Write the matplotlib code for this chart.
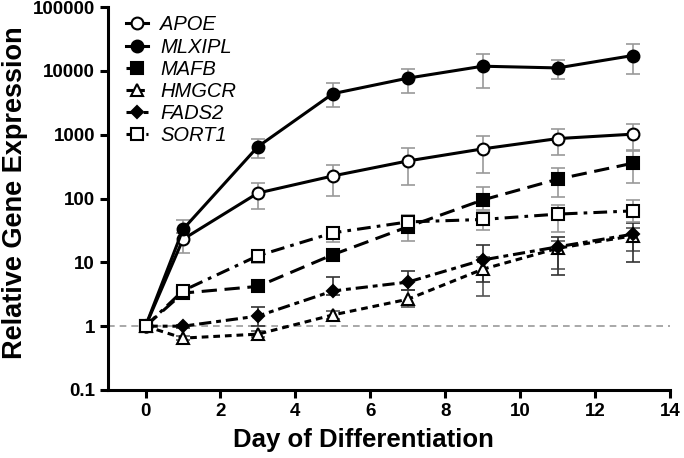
import matplotlib
matplotlib.use("Agg")
import matplotlib.pyplot as plt
import numpy as np

plt.rcParams['font.family'] = ['Liberation Sans', 'DejaVu Sans']

days = [0, 1, 3, 5, 7, 9, 11, 13]
genes = ["APOE", "MLXIPL", "MAFB", "HMGCR", "FADS2", "SORT1"]

apoe = [1, 23, 122, 226, 388, 600, 870, 1020]
apoe_hi = [1, 29, 174, 340, 614, 957, 1233, 1477]
apoe_lo = [1, 14, 69, 111, 163, 252, 482, 580]

mlxipl = [1, 33, 651, 4400, 7700, 11850, 11140, 17400]
mlxipl_hi = [1, 46, 850, 6400, 10700, 18300, 14870, 26500]
mlxipl_lo = [1, 29, 428, 2700, 4470, 5470, 7410, 8870]

mafb = [1, 3.3, 4.2, 13.2, 36, 95, 201, 357]
mafb_hi = [1, 3.6, 4.6, 15, 45, 150, 298, 563]
mafb_lo = [1, 3.0, 3.8, 11.5, 22, 65, 107, 174]

hmgcr = [1, 0.65, 0.75, 1.5, 2.64, 7.8, 16.6, 26]
hmgcr_hi = [1, 0.7, 0.85, 1.7, 3.7, 12, 22, 35]
hmgcr_lo = [1, 0.6, 0.68, 1.3, 2.0, 3.0, 8, 15]

fads2 = [1, 1.0, 1.44, 3.56, 4.9, 10.9, 17.5, 27.6]
fads2_hi = [1, 1.05, 2.02, 6.0, 7.4, 18.8, 25, 42]
fads2_lo = [1, 0.95, 1.0, 3.1, 3.7, 5.0, 6.3, 10.2]

sort1 = [1, 3.6, 12.7, 29, 43, 47, 57, 64]
sort1_hi = [1, 4.0, 15.8, 36, 55, 62.5, 79, 94]
sort1_lo = [1, 3.2, 9.7, 21, 38, 32, 30, 43]

series = [
    (apoe, apoe_hi, apoe_lo, dict(marker='o', mfc='white', ls='-'), '#999999'),
    (mlxipl, mlxipl_hi, mlxipl_lo, dict(marker='o', mfc='black', ls='-'), '#999999'),
    (mafb, mafb_hi, mafb_lo, dict(marker='s', mfc='black', ls=(0, (5, 2.5))), '#999999'),
    (hmgcr, hmgcr_hi, hmgcr_lo, dict(marker='^', mfc='white', ls=(0, (2.2, 1.6))), '#555555'),
    (fads2, fads2_hi, fads2_lo, dict(marker='D', mfc='black', ls=(0, (4, 1.6, 1.6, 1.6)), ms=6.5), '#333333'),
    (sort1, sort1_hi, sort1_lo, dict(marker='s', mfc='white', ls=(0, (4.5, 2, 1.2, 2))), '#999999'),
]

fig = plt.figure(figsize=(6.84, 4.58), dpi=100)
ax = fig.add_axes([0.158, 0.1485, 0.8215, 0.836])

ax.axhline(1, color='#999999', ls=(0, (4, 3)), lw=1.2, zorder=0)

x = np.array(days)
for name, (vals, hi, lo, st, ecol) in zip(genes, series):
    v = np.array(vals, float)
    yerr = np.vstack([v - np.array(lo, float), np.array(hi, float) - v])
    ax.errorbar(x, v, yerr=yerr, fmt='none', ecolor=ecol, elinewidth=1.2,
                capsize=5, capthick=1.2, zorder=1)
    ms = st.pop('ms', 8.5)
    ax.plot(x, v, color='black', lw=2.2, marker=st['marker'], mfc=st['mfc'],
            mec='black', mew=1.5, ms=ms, ls=st['ls'], label=name, zorder=3)

ax.set_yscale('log')
ax.set_ylim(0.1, 100000)
ax.set_xlim(-1, 14)
ax.set_xticks([0, 2, 4, 6, 8, 10, 12, 14])
ax.set_yticks([0.1, 1, 10, 100, 1000, 10000, 100000])
ax.set_yticklabels(['0.1', '1', '10', '100', '1000', '10000', '100000'])
ax.yaxis.set_minor_locator(matplotlib.ticker.NullLocator())

for s in ['top', 'right']:
    ax.spines[s].set_visible(False)
for s in ['left', 'bottom']:
    ax.spines[s].set_linewidth(2.2)
ax.tick_params(axis='both', which='major', width=2.2, length=6, direction='out',
               labelsize=13.5)
for lab in ax.get_xticklabels() + ax.get_yticklabels():
    lab.set_fontweight('bold')

ax.set_xlabel('Day of Differentiation', fontsize=18.5, fontweight='bold', labelpad=5)
ax.xaxis.set_label_coords(0.454, -0.1)
ax.set_ylabel('Relative Gene Expression', fontsize=19.5, fontweight='bold', labelpad=4)
ax.yaxis.set_label_coords(-0.142, 0.515)

leg = ax.legend(loc='upper left', frameon=False, handlelength=1.1,
                handletextpad=0.6, labelspacing=0.16, fontsize=14.5,
                bbox_to_anchor=(0.01, 1.01), borderaxespad=0.2)
for t in leg.get_texts():
    t.set_fontstyle('italic')

fig.savefig('out.png', dpi=100)
